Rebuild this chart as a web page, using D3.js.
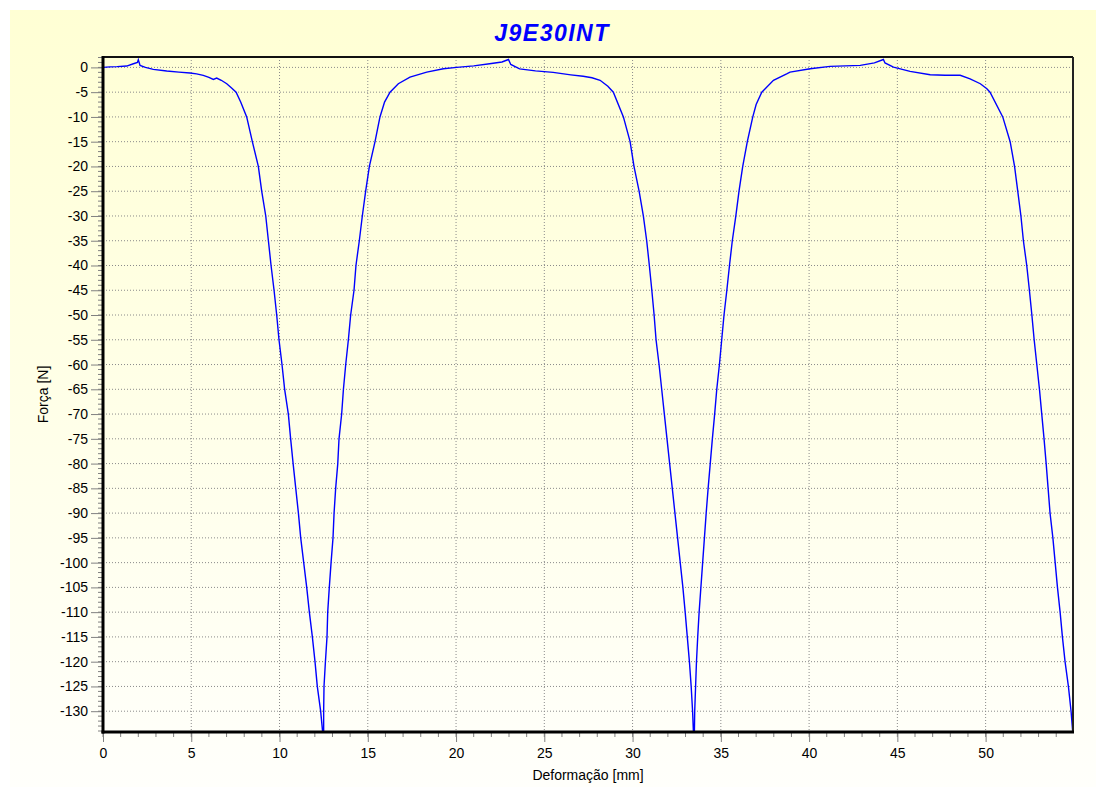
<!DOCTYPE html>
<html>
<head>
<meta charset="utf-8">
<script src="https://cdn.jsdelivr.net/npm/d3@7"></script>
<style>
  body { margin: 0; background: #ffffff; }
  text { font-family: Arial, "Liberation Sans", sans-serif; }
</style>
</head>
<body>
<div id="chart"></div>
<script>
// curve: deformation [mm] and force [N]
var deformacao = [
  0, 0.4, 0.8, 1.34, 1.72, 1.95, 2.0, 2.1, 2.4, 2.85, 3.61, 4.3, 4.93, 5.3, 5.68, 6.0, 6.25, 6.44, 6.7, 7.01, 7.3, 7.54, 7.8, 8.14,
  8.46, 8.80, 8.99, 9.22, 9.37, 9.52, 9.69, 9.84, 9.97, 10.14, 10.29, 10.50, 10.63, 10.77, 10.92, 11.07, 11.20, 11.37, 11.54, 11.69, 11.86, 12.01, 12.14, 12.33, 12.45,
  12.50, 12.50, 12.52, 12.60, 12.69, 12.73, 12.82, 12.92, 13.03, 13.09, 13.18, 13.30, 13.37, 13.52, 13.62, 13.75, 13.90, 14.03, 14.22, 14.33, 14.52, 14.69, 14.88, 15.09, 15.41, 15.69, 15.95, 16.26, 16.73, 17.39, 18.34, 19.28, 20.04, 21.0, 21.9, 22.6, 22.97, 23.1, 23.6, 24.5, 25.5, 26.5, 27.2, 27.7, 28.16, 28.6, 28.91,
  29.48, 29.86, 30.08, 30.37, 30.61, 30.80, 30.95, 31.09, 31.22, 31.33, 31.50, 31.65, 31.80, 31.95, 32.10, 32.25, 32.40, 32.55, 32.70, 32.85, 32.98, 33.10, 33.22, 33.32, 33.40, 33.45,
  33.50, 33.52, 33.57, 33.62, 33.69, 33.77, 33.87, 33.97, 34.07, 34.17, 34.28, 34.40, 34.52, 34.65, 34.77, 34.92, 35.05, 35.18, 35.34, 35.49, 35.65, 35.85, 36.03, 36.24, 36.50, 36.81, 37.0, 37.32, 37.98, 38.73, 38.92, 40.06, 41.19, 42.9, 43.7, 44.21, 44.3, 44.78, 45.72, 46.86, 47.7, 48.56, 49.12, 49.7, 50.07,
  50.25, 50.97, 51.39, 51.64, 51.82, 52.0, 52.14, 52.33, 52.48, 52.62, 52.75, 52.90, 53.05, 53.18, 53.31, 53.43, 53.54, 53.65, 53.81, 53.94, 54.07, 54.22, 54.35, 54.50, 54.69, 54.84, 54.94
];
var forca = [
  0, 0.1, 0.15, 0.27, 0.74, 1.0, 1.55, 0.4, 0.0, -0.4, -0.74, -0.95, -1.14, -1.3, -1.61, -2.0, -2.42, -2.15, -2.6, -3.3, -4.2, -5, -7, -10,
  -15, -20, -25, -30, -35, -40, -45, -50, -55, -60, -65, -70, -75, -80, -85, -90, -95, -100, -105, -110, -115, -120, -125, -130, -134.5,
  -134.5, -130, -125, -120, -115, -110, -105, -100, -95, -90, -85, -80, -75, -70, -65, -60, -55, -50, -45, -40, -35, -30, -25, -20, -15, -10, -7, -5, -3.3, -1.95, -0.95, -0.27, 0.0, 0.3, 0.74, 1.1, 1.6, 0.6, -0.3, -0.7, -1.0, -1.5, -1.8, -2.1, -2.6, -3.8, -5,
  -10, -15, -20, -25, -30, -35, -40, -45, -50, -55, -60, -65, -70, -75, -80, -85, -90, -95, -100, -105, -110, -115, -120, -125, -130, -134.5,
  -134.5, -130, -125, -120, -115, -110, -105, -100, -95, -90, -85, -80, -75, -70, -65, -60, -55, -50, -45, -40, -35, -30, -25, -20, -15, -10, -7.5, -5, -2.6, -1.3, -0.95, -0.27, 0.2, 0.4, 0.9, 1.6, 0.9, 0.06, -0.8, -1.48, -1.6, -1.6, -2.3, -3.3, -4.3,
  -5, -10, -15, -20, -25, -30, -35, -40, -45, -50, -55, -60, -65, -70, -75, -80, -85, -90, -95, -100, -105, -110, -115, -120, -125, -130, -134.5
];

var xTicks = [0, 5, 10, 15, 20, 25, 30, 35, 40, 45, 50];
var yTicks = d3.range(0, -131, -5);
var xDomain = [0, 54.95];
var yDomain = [-134.2, 2.1];

var titulo = "J9E30INT";
var xTitulo = "Deformação [mm]";
var yTitulo = "Força [N]";

var W = 1096, H = 787;
var margin = { top: 57, right: 23, bottom: 55, left: 103 };
var width = W - margin.left - margin.right,
    height = H - margin.top - margin.bottom;

var svg = d3.select("#chart").append("svg")
    .attr("width", W)
    .attr("height", H);

// background gradient panel
var defs = svg.append("defs");
var grad = defs.append("linearGradient")
    .attr("id", "bg")
    .attr("x1", 0).attr("y1", 0).attr("x2", 0).attr("y2", 1);
grad.append("stop").attr("offset", "0%").attr("stop-color", "#ffffd4");
grad.append("stop").attr("offset", "100%").attr("stop-color", "#fffffb");

defs.append("clipPath").attr("id", "clip")
  .append("rect")
    .attr("width", width)
    .attr("height", height);

svg.append("rect")
    .attr("x", 10).attr("y", 10)
    .attr("width", W - 10).attr("height", H - 10)
    .attr("fill", "url(#bg)");

var g = svg.append("g")
    .attr("transform", "translate(" + margin.left + "," + margin.top + ")");

var x = d3.scaleLinear().domain(xDomain).range([0, width]);
var y = d3.scaleLinear().domain(yDomain).range([height, 0]);

// grid
g.selectAll(".gx").data(xTicks.filter(function(d) { return d > 0; }))
  .enter().append("line")
    .attr("x1", function(d) { return x(d); })
    .attr("x2", function(d) { return x(d); })
    .attr("y1", 0).attr("y2", height)
    .attr("stroke", "#8a8a8a")
    .attr("stroke-dasharray", "1,2");
g.selectAll(".gy").data(yTicks)
  .enter().append("line")
    .attr("y1", function(d) { return y(d); })
    .attr("y2", function(d) { return y(d); })
    .attr("x1", 0).attr("x2", width)
    .attr("stroke", "#8a8a8a")
    .attr("stroke-dasharray", "1,2");

// minor ticks
var xMinor = d3.range(0, 55, 1);
var yMinor = d3.range(-134, 3, 1);
g.selectAll(".mx").data(xMinor)
  .enter().append("line")
    .attr("x1", function(d) { return x(d); })
    .attr("x2", function(d) { return x(d); })
    .attr("y1", height).attr("y2", height + 5)
    .attr("stroke", "#808080");
g.selectAll(".my").data(yMinor)
  .enter().append("line")
    .attr("y1", function(d) { return y(d); })
    .attr("y2", function(d) { return y(d); })
    .attr("x1", -5).attr("x2", 0)
    .attr("stroke", "#808080");

// axes (plain hyphen for negatives, like the original)
var fmt = function(d) { return String(d); };
var xAxis = d3.axisBottom(x).tickValues(xTicks).tickFormat(fmt).tickSize(10).tickPadding(6);
var yAxis = d3.axisLeft(y).tickValues(yTicks).tickFormat(fmt).tickSize(12).tickPadding(3);

var gx = g.append("g")
    .attr("transform", "translate(0," + height + ")")
    .call(xAxis);
var gy = g.append("g").call(yAxis);

[gx, gy].forEach(function(a) {
  a.select(".domain").remove();
  a.selectAll(".tick line").attr("stroke", "#808080");
  a.selectAll(".tick text")
      .attr("fill", "#000")
      .style("font-size", "14px")
      .style("font-family", "Arial, 'Liberation Sans', sans-serif");
});

// curve
var pts = deformacao.map(function(d, i) { return [d, forca[i]]; });
var line = d3.line()
    .x(function(d) { return x(d[0]); })
    .y(function(d) { return y(d[1]); });

g.append("path")
    .datum(pts)
    .attr("clip-path", "url(#clip)")
    .attr("fill", "none")
    .attr("stroke", "#0000ff")
    .attr("stroke-width", 1.4)
    .attr("d", line);

// frame
g.append("line").attr("x1", 0).attr("x2", width).attr("y1", 0).attr("y2", 0)
    .attr("stroke", "#111").attr("stroke-width", 2);
g.append("line").attr("x1", width).attr("x2", width).attr("y1", 0).attr("y2", height)
    .attr("stroke", "#222").attr("stroke-width", 2);
g.append("line").attr("x1", 0).attr("x2", 0).attr("y1", -1).attr("y2", height + 1.5)
    .attr("stroke", "#000").attr("stroke-width", 3);
g.append("line").attr("x1", -1.5).attr("x2", width + 1).attr("y1", height).attr("y2", height)
    .attr("stroke", "#000").attr("stroke-width", 3);

// titles
svg.append("text")
    .attr("x", 552)
    .attr("y", 41)
    .attr("text-anchor", "middle")
    .attr("fill", "#0000ff")
    .style("font-size", "23px")
    .style("font-weight", "bold")
    .style("font-style", "italic")
    .style("letter-spacing", "1.5px")
    .text(titulo);

svg.append("text")
    .attr("x", margin.left + width / 2)
    .attr("y", 780)
    .attr("text-anchor", "middle")
    .style("font-size", "14px")
    .text(xTitulo);

svg.append("text")
    .attr("transform", "translate(48," + (margin.top + height / 2) + ") rotate(-90)")
    .attr("text-anchor", "middle")
    .style("font-size", "14px")
    .text(yTitulo);
</script>
</body>
</html>
